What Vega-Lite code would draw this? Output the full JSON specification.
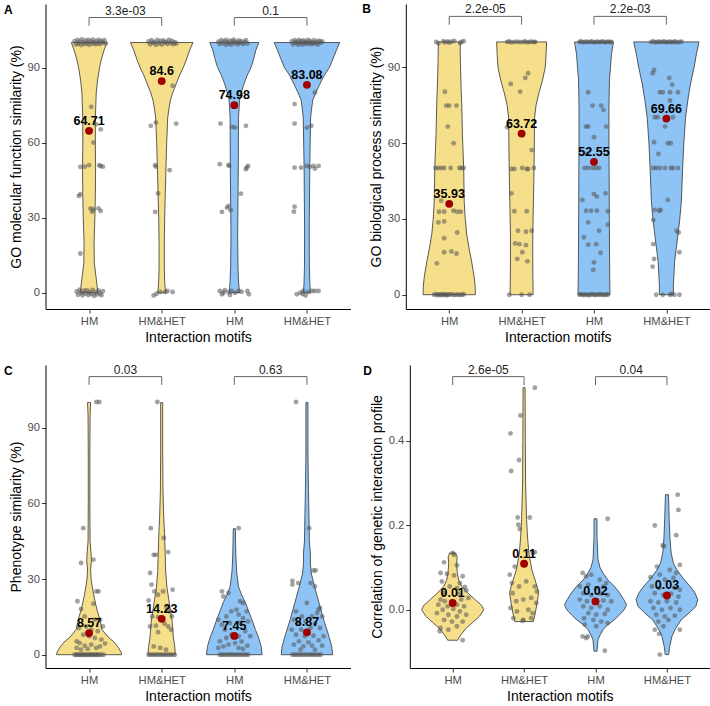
{
"$schema": "https://vega.github.io/schema/vega-lite/v6.json",
"padding": {"left": 3.5, "top": 3, "right": 0, "bottom": 0},
"spacing": 18,
"vconcat": [
{"hconcat": [
{"width": 305, "height": 305,
 "title": {"text": "A", "anchor": "start", "frame": "bounds", "fontSize": 12, "fontWeight": "bold", "baseline": "top", "offset": 0, "dx": -5, "dy": 13},
 "layer": [
  {"data": {"name": "vA"}, "transform": [{"calculate": "datum.g - datum.w", "as": "lo"}, {"calculate": "datum.g + datum.w", "as": "hi"}],
   "mark": {"type": "area", "orient": "horizontal", "stroke": "#333333", "strokeWidth": 0.8},
   "encoding": {
    "y": {"field": "v", "type": "quantitative", "scale": {"domain": [-6.5, 115.4], "nice": false, "zero": false}, "axis": {"values": [0, 30, 60, 90], "title": "GO molecular function similarity (%)"}},
    "x": {"field": "lo", "type": "quantitative", "scale": {"domain": [0.4, 4.6], "nice": false, "zero": false}, "axis": {"values": [1, 2, 3, 4], "labelExpr": "datum.value == 1 || datum.value == 3 ? 'HM' : 'HM&HET'", "title": "Interaction motifs"}},
    "x2": {"field": "hi"},
    "fill": {"field": "g", "type": "nominal", "scale": {"domain": [1, 2, 3, 4], "range": ["#F6DF8A", "#F6DF8A", "#8DC3F5", "#8DC3F5"]}, "legend": null}}},
  {"data": {"name": "pA"}, "transform": [{"calculate": "datum.g + datum.o", "as": "x"}],
   "mark": {"type": "circle", "size": 24, "color": "#555555", "opacity": 0.55},
   "encoding": {"x": {"field": "x", "type": "quantitative"}, "y": {"field": "v", "type": "quantitative"}}},
  {"data": {"name": "means"}, "transform": [{"filter": "datum.p == 'A'"}],
   "mark": {"type": "circle", "size": 62, "color": "#A00000", "opacity": 1},
   "encoding": {"x": {"field": "g", "type": "quantitative"}, "y": {"field": "v", "type": "quantitative"}}},
  {"data": {"name": "means"}, "transform": [{"filter": "datum.p == 'A'"}],
   "mark": {"type": "text", "fontSize": 12.5, "fontWeight": "bold", "color": "black", "baseline": "alphabetic", "dy": -6},
   "encoding": {"x": {"field": "g", "type": "quantitative"}, "y": {"field": "v", "type": "quantitative"}, "text": {"field": "lab"}}},
  {"data": {"name": "br"}, "transform": [{"filter": "datum.p == 'A'"}],
   "mark": {"type": "rule", "color": "#666666", "strokeWidth": 1},
   "encoding": {"x": {"field": "g1", "type": "quantitative"}, "x2": {"field": "g2"}, "y": {"field": "y", "type": "quantitative"}}},
  {"data": {"name": "br"}, "transform": [{"filter": "datum.p == 'A'"}],
   "mark": {"type": "rule", "color": "#666666", "strokeWidth": 1},
   "encoding": {"x": {"field": "g1", "type": "quantitative"}, "y": {"field": "y", "type": "quantitative"}, "y2": {"field": "yt"}}},
  {"data": {"name": "br"}, "transform": [{"filter": "datum.p == 'A'"}],
   "mark": {"type": "rule", "color": "#666666", "strokeWidth": 1},
   "encoding": {"x": {"field": "g2", "type": "quantitative"}, "y": {"field": "y", "type": "quantitative"}, "y2": {"field": "yt"}}},
  {"data": {"name": "br"}, "transform": [{"filter": "datum.p == 'A'"}, {"calculate": "(datum.g1 + datum.g2) / 2", "as": "m"}],
   "mark": {"type": "text", "fontSize": 12, "color": "#222222", "baseline": "alphabetic", "dy": -3},
   "encoding": {"x": {"field": "m", "type": "quantitative"}, "y": {"field": "y", "type": "quantitative"}, "text": {"field": "lab"}}}
 ]},
{"width": 304, "height": 305,
 "title": {"text": "B", "anchor": "start", "frame": "bounds", "fontSize": 12, "fontWeight": "bold", "baseline": "top", "offset": 0, "dx": -7, "dy": 13},
 "layer": [
  {"data": {"name": "vB"}, "transform": [{"calculate": "datum.g - datum.w", "as": "lo"}, {"calculate": "datum.g + datum.w", "as": "hi"}],
   "mark": {"type": "area", "orient": "horizontal", "stroke": "#333333", "strokeWidth": 0.8},
   "encoding": {
    "y": {"field": "v", "type": "quantitative", "scale": {"domain": [-5.66, 115.0], "nice": false, "zero": false}, "axis": {"values": [0, 30, 60, 90], "title": "GO biological process similarity (%)"}},
    "x": {"field": "lo", "type": "quantitative", "scale": {"domain": [0.4, 4.6], "nice": false, "zero": false}, "axis": {"values": [1, 2, 3, 4], "labelExpr": "datum.value == 1 || datum.value == 3 ? 'HM' : 'HM&HET'", "title": "Interaction motifs"}},
    "x2": {"field": "hi"},
    "fill": {"field": "g", "type": "nominal", "scale": {"domain": [1, 2, 3, 4], "range": ["#F6DF8A", "#F6DF8A", "#8DC3F5", "#8DC3F5"]}, "legend": null}}},
  {"data": {"name": "pB"}, "transform": [{"calculate": "datum.g + datum.o", "as": "x"}],
   "mark": {"type": "circle", "size": 24, "color": "#555555", "opacity": 0.55},
   "encoding": {"x": {"field": "x", "type": "quantitative"}, "y": {"field": "v", "type": "quantitative"}}},
  {"data": {"name": "means"}, "transform": [{"filter": "datum.p == 'B'"}],
   "mark": {"type": "circle", "size": 62, "color": "#A00000", "opacity": 1},
   "encoding": {"x": {"field": "g", "type": "quantitative"}, "y": {"field": "v", "type": "quantitative"}}},
  {"data": {"name": "means"}, "transform": [{"filter": "datum.p == 'B'"}],
   "mark": {"type": "text", "fontSize": 12.5, "fontWeight": "bold", "color": "black", "baseline": "alphabetic", "dy": -6},
   "encoding": {"x": {"field": "g", "type": "quantitative"}, "y": {"field": "v", "type": "quantitative"}, "text": {"field": "lab"}}},
  {"data": {"name": "br"}, "transform": [{"filter": "datum.p == 'B'"}],
   "mark": {"type": "rule", "color": "#666666", "strokeWidth": 1},
   "encoding": {"x": {"field": "g1", "type": "quantitative"}, "x2": {"field": "g2"}, "y": {"field": "y", "type": "quantitative"}}},
  {"data": {"name": "br"}, "transform": [{"filter": "datum.p == 'B'"}],
   "mark": {"type": "rule", "color": "#666666", "strokeWidth": 1},
   "encoding": {"x": {"field": "g1", "type": "quantitative"}, "y": {"field": "y", "type": "quantitative"}, "y2": {"field": "yt"}}},
  {"data": {"name": "br"}, "transform": [{"filter": "datum.p == 'B'"}],
   "mark": {"type": "rule", "color": "#666666", "strokeWidth": 1},
   "encoding": {"x": {"field": "g2", "type": "quantitative"}, "y": {"field": "y", "type": "quantitative"}, "y2": {"field": "yt"}}},
  {"data": {"name": "br"}, "transform": [{"filter": "datum.p == 'B'"}, {"calculate": "(datum.g1 + datum.g2) / 2", "as": "m"}],
   "mark": {"type": "text", "fontSize": 12, "color": "#222222", "baseline": "alphabetic", "dy": -3},
   "encoding": {"x": {"field": "m", "type": "quantitative"}, "y": {"field": "y", "type": "quantitative"}, "text": {"field": "lab"}}}
 ]}
], "spacing": 11.3},
{"hconcat": [
{"width": 305, "height": 303,
 "title": {"text": "C", "anchor": "start", "frame": "bounds", "fontSize": 12, "fontWeight": "bold", "baseline": "top", "offset": 0, "dx": -5, "dy": 14},
 "layer": [
  {"data": {"name": "vC"}, "transform": [{"calculate": "datum.g - datum.w", "as": "lo"}, {"calculate": "datum.g + datum.w", "as": "hi"}],
   "mark": {"type": "area", "orient": "horizontal", "stroke": "#333333", "strokeWidth": 0.8},
   "encoding": {
    "y": {"field": "v", "type": "quantitative", "scale": {"domain": [-5.27, 114.9], "nice": false, "zero": false}, "axis": {"values": [0, 30, 60, 90], "title": "Phenotype similarity (%)"}},
    "x": {"field": "lo", "type": "quantitative", "scale": {"domain": [0.4, 4.6], "nice": false, "zero": false}, "axis": {"values": [1, 2, 3, 4], "labelExpr": "datum.value == 1 || datum.value == 3 ? 'HM' : 'HM&HET'", "title": "Interaction motifs"}},
    "x2": {"field": "hi"},
    "fill": {"field": "g", "type": "nominal", "scale": {"domain": [1, 2, 3, 4], "range": ["#F6DF8A", "#F6DF8A", "#8DC3F5", "#8DC3F5"]}, "legend": null}}},
  {"data": {"name": "pC"}, "transform": [{"calculate": "datum.g + datum.o", "as": "x"}],
   "mark": {"type": "circle", "size": 24, "color": "#555555", "opacity": 0.55},
   "encoding": {"x": {"field": "x", "type": "quantitative"}, "y": {"field": "v", "type": "quantitative"}}},
  {"data": {"name": "means"}, "transform": [{"filter": "datum.p == 'C'"}],
   "mark": {"type": "circle", "size": 62, "color": "#A00000", "opacity": 1},
   "encoding": {"x": {"field": "g", "type": "quantitative"}, "y": {"field": "v", "type": "quantitative"}}},
  {"data": {"name": "means"}, "transform": [{"filter": "datum.p == 'C'"}],
   "mark": {"type": "text", "fontSize": 12.5, "fontWeight": "bold", "color": "black", "baseline": "alphabetic", "dy": -6},
   "encoding": {"x": {"field": "g", "type": "quantitative"}, "y": {"field": "v", "type": "quantitative"}, "text": {"field": "lab"}}},
  {"data": {"name": "br"}, "transform": [{"filter": "datum.p == 'C'"}],
   "mark": {"type": "rule", "color": "#666666", "strokeWidth": 1},
   "encoding": {"x": {"field": "g1", "type": "quantitative"}, "x2": {"field": "g2"}, "y": {"field": "y", "type": "quantitative"}}},
  {"data": {"name": "br"}, "transform": [{"filter": "datum.p == 'C'"}],
   "mark": {"type": "rule", "color": "#666666", "strokeWidth": 1},
   "encoding": {"x": {"field": "g1", "type": "quantitative"}, "y": {"field": "y", "type": "quantitative"}, "y2": {"field": "yt"}}},
  {"data": {"name": "br"}, "transform": [{"filter": "datum.p == 'C'"}],
   "mark": {"type": "rule", "color": "#666666", "strokeWidth": 1},
   "encoding": {"x": {"field": "g2", "type": "quantitative"}, "y": {"field": "y", "type": "quantitative"}, "y2": {"field": "yt"}}},
  {"data": {"name": "br"}, "transform": [{"filter": "datum.p == 'C'"}, {"calculate": "(datum.g1 + datum.g2) / 2", "as": "m"}],
   "mark": {"type": "text", "fontSize": 12, "color": "#222222", "baseline": "alphabetic", "dy": -3},
   "encoding": {"x": {"field": "m", "type": "quantitative"}, "y": {"field": "y", "type": "quantitative"}, "text": {"field": "lab"}}}
 ]},
{"width": 300, "height": 303,
 "title": {"text": "D", "anchor": "start", "frame": "bounds", "fontSize": 12, "fontWeight": "bold", "baseline": "top", "offset": 0, "dx": -7, "dy": 14},
 "layer": [
  {"data": {"name": "vD"}, "transform": [{"calculate": "datum.g - datum.w", "as": "lo"}, {"calculate": "datum.g + datum.w", "as": "hi"}],
   "mark": {"type": "area", "orient": "horizontal", "stroke": "#333333", "strokeWidth": 0.8},
   "encoding": {
    "y": {"field": "v", "type": "quantitative", "scale": {"domain": [-0.1377, 0.5785], "nice": false, "zero": false}, "axis": {"values": [0, 0.2, 0.4], "format": ".1f", "title": "Correlation of genetic interaction profile"}},
    "x": {"field": "lo", "type": "quantitative", "scale": {"domain": [0.4, 4.6], "nice": false, "zero": false}, "axis": {"values": [1, 2, 3, 4], "labelExpr": "datum.value == 1 || datum.value == 3 ? 'HM' : 'HM&HET'", "title": "Interaction motifs"}},
    "x2": {"field": "hi"},
    "fill": {"field": "g", "type": "nominal", "scale": {"domain": [1, 2, 3, 4], "range": ["#F6DF8A", "#F6DF8A", "#8DC3F5", "#8DC3F5"]}, "legend": null}}},
  {"data": {"name": "pD"}, "transform": [{"calculate": "datum.g + datum.o", "as": "x"}],
   "mark": {"type": "circle", "size": 24, "color": "#555555", "opacity": 0.55},
   "encoding": {"x": {"field": "x", "type": "quantitative"}, "y": {"field": "v", "type": "quantitative"}}},
  {"data": {"name": "means"}, "transform": [{"filter": "datum.p == 'D'"}],
   "mark": {"type": "circle", "size": 62, "color": "#A00000", "opacity": 1},
   "encoding": {"x": {"field": "g", "type": "quantitative"}, "y": {"field": "v", "type": "quantitative"}}},
  {"data": {"name": "means"}, "transform": [{"filter": "datum.p == 'D'"}],
   "mark": {"type": "text", "fontSize": 12.5, "fontWeight": "bold", "color": "black", "baseline": "alphabetic", "dy": -6},
   "encoding": {"x": {"field": "g", "type": "quantitative"}, "y": {"field": "v", "type": "quantitative"}, "text": {"field": "lab"}}},
  {"data": {"name": "br"}, "transform": [{"filter": "datum.p == 'D'"}],
   "mark": {"type": "rule", "color": "#666666", "strokeWidth": 1},
   "encoding": {"x": {"field": "g1", "type": "quantitative"}, "x2": {"field": "g2"}, "y": {"field": "y", "type": "quantitative"}}},
  {"data": {"name": "br"}, "transform": [{"filter": "datum.p == 'D'"}],
   "mark": {"type": "rule", "color": "#666666", "strokeWidth": 1},
   "encoding": {"x": {"field": "g1", "type": "quantitative"}, "y": {"field": "y", "type": "quantitative"}, "y2": {"field": "yt"}}},
  {"data": {"name": "br"}, "transform": [{"filter": "datum.p == 'D'"}],
   "mark": {"type": "rule", "color": "#666666", "strokeWidth": 1},
   "encoding": {"x": {"field": "g2", "type": "quantitative"}, "y": {"field": "y", "type": "quantitative"}, "y2": {"field": "yt"}}},
  {"data": {"name": "br"}, "transform": [{"filter": "datum.p == 'D'"}, {"calculate": "(datum.g1 + datum.g2) / 2", "as": "m"}],
   "mark": {"type": "text", "fontSize": 12, "color": "#222222", "baseline": "alphabetic", "dy": -3},
   "encoding": {"x": {"field": "m", "type": "quantitative"}, "y": {"field": "y", "type": "quantitative"}, "text": {"field": "lab"}}}
 ]}
], "spacing": 12.3}
],
"datasets": {
"means": [
 {"p": "A", "g": 1, "v": 64.71, "lab": "64.71"}, {"p": "A", "g": 2, "v": 84.6, "lab": "84.6"}, {"p": "A", "g": 3, "v": 74.98, "lab": "74.98"}, {"p": "A", "g": 4, "v": 83.08, "lab": "83.08"},
 {"p": "B", "g": 1, "v": 35.93, "lab": "35.93"}, {"p": "B", "g": 2, "v": 63.72, "lab": "63.72"}, {"p": "B", "g": 3, "v": 52.55, "lab": "52.55"}, {"p": "B", "g": 4, "v": 69.66, "lab": "69.66"},
 {"p": "C", "g": 1, "v": 8.57, "lab": "8.57"}, {"p": "C", "g": 2, "v": 14.23, "lab": "14.23"}, {"p": "C", "g": 3, "v": 7.45, "lab": "7.45"}, {"p": "C", "g": 4, "v": 8.87, "lab": "8.87"},
 {"p": "D", "g": 1, "v": 0.0158, "lab": "0.01"}, {"p": "D", "g": 2, "v": 0.1087, "lab": "0.11"}, {"p": "D", "g": 3, "v": 0.0197, "lab": "0.02"}, {"p": "D", "g": 4, "v": 0.0339, "lab": "0.03"}
],
"br": [
 {"p": "A", "g1": 1, "g2": 2, "y": 110, "yt": 106.7, "lab": "3.3e-03"}, {"p": "A", "g1": 3, "g2": 4, "y": 110, "yt": 106.7, "lab": "0.1"},
 {"p": "B", "g1": 1, "g2": 2, "y": 110.1, "yt": 106.8, "lab": "2.2e-05"}, {"p": "B", "g1": 3, "g2": 4, "y": 110.1, "yt": 106.8, "lab": "2.2e-03"},
 {"p": "C", "g1": 1, "g2": 2, "y": 110.3, "yt": 107, "lab": "0.03"}, {"p": "C", "g1": 3, "g2": 4, "y": 110.3, "yt": 107, "lab": "0.63"},
 {"p": "D", "g1": 1, "g2": 2, "y": 0.551, "yt": 0.531, "lab": "2.6e-05"}, {"p": "D", "g1": 3, "g2": 4, "y": 0.551, "yt": 0.531, "lab": "0.04"}
],
"vA": [
 {"g":1,"v":100,"w":0.244},{"g":1,"v":97,"w":0.207},{"g":1,"v":93,"w":0.166},{"g":1,"v":90,"w":0.145},{"g":1,"v":85,"w":0.117},{"g":1,"v":80,"w":0.099},{"g":1,"v":70,"w":0.087},{"g":1,"v":60,"w":0.086},{"g":1,"v":50,"w":0.09},{"g":1,"v":40,"w":0.087},{"g":1,"v":30,"w":0.08},{"g":1,"v":20,"w":0.069},{"g":1,"v":12,"w":0.072},{"g":1,"v":6,"w":0.097},{"g":1,"v":2,"w":0.114},{"g":1,"v":0,"w":0.12},
 {"g":2,"v":100,"w":0.43},{"g":2,"v":97,"w":0.386},{"g":2,"v":93,"w":0.338},{"g":2,"v":90,"w":0.297},{"g":2,"v":87,"w":0.248},{"g":2,"v":83,"w":0.193},{"g":2,"v":80,"w":0.152},{"g":2,"v":77,"w":0.12},{"g":2,"v":73,"w":0.097},{"g":2,"v":70,"w":0.083},{"g":2,"v":60,"w":0.069},{"g":2,"v":50,"w":0.059},{"g":2,"v":40,"w":0.05},{"g":2,"v":30,"w":0.041},{"g":2,"v":20,"w":0.036},{"g":2,"v":10,"w":0.036},{"g":2,"v":5,"w":0.041},{"g":2,"v":2,"w":0.048},{"g":2,"v":0,"w":0.055},
 {"g":3,"v":100,"w":0.338},{"g":3,"v":97,"w":0.297},{"g":3,"v":93,"w":0.262},{"g":3,"v":90,"w":0.23},{"g":3,"v":87,"w":0.179},{"g":3,"v":83,"w":0.127},{"g":3,"v":80,"w":0.097},{"g":3,"v":77,"w":0.072},{"g":3,"v":70,"w":0.058},{"g":3,"v":50,"w":0.055},{"g":3,"v":35,"w":0.05},{"g":3,"v":23,"w":0.046},{"g":3,"v":10,"w":0.051},{"g":3,"v":4,"w":0.059},{"g":3,"v":2,"w":0.066},{"g":3,"v":0,"w":0.069},
 {"g":4,"v":100,"w":0.451},{"g":4,"v":97,"w":0.407},{"g":4,"v":93,"w":0.352},{"g":4,"v":90,"w":0.31},{"g":4,"v":87,"w":0.241},{"g":4,"v":83,"w":0.172},{"g":4,"v":80,"w":0.124},{"g":4,"v":77,"w":0.08},{"g":4,"v":73,"w":0.062},{"g":4,"v":70,"w":0.051},{"g":4,"v":50,"w":0.039},{"g":4,"v":25,"w":0.032},{"g":4,"v":10,"w":0.034},{"g":4,"v":3,"w":0.041},{"g":4,"v":0,"w":0.051}
],
"vB": [
 {"g":1,"v":100,"w":0.152},{"g":1,"v":96,"w":0.152},{"g":1,"v":90,"w":0.156},{"g":1,"v":83,"w":0.163},{"g":1,"v":76,"w":0.172},{"g":1,"v":63,"w":0.183},{"g":1,"v":50,"w":0.2},{"g":1,"v":37,"w":0.207},{"g":1,"v":30,"w":0.221},{"g":1,"v":24,"w":0.241},{"g":1,"v":18,"w":0.276},{"g":1,"v":13,"w":0.31},{"g":1,"v":7,"w":0.345},{"g":1,"v":3,"w":0.359},{"g":1,"v":0,"w":0.361},
 {"g":2,"v":100,"w":0.345},{"g":2,"v":95,"w":0.338},{"g":2,"v":90,"w":0.327},{"g":2,"v":85,"w":0.29},{"g":2,"v":80,"w":0.241},{"g":2,"v":75,"w":0.2},{"g":2,"v":70,"w":0.179},{"g":2,"v":57,"w":0.175},{"g":2,"v":44,"w":0.168},{"g":2,"v":24,"w":0.154},{"g":2,"v":11,"w":0.154},{"g":2,"v":0,"w":0.159},
 {"g":3,"v":100,"w":0.269},{"g":3,"v":95,"w":0.241},{"g":3,"v":90,"w":0.228},{"g":3,"v":85,"w":0.214},{"g":3,"v":75,"w":0.207},{"g":3,"v":60,"w":0.207},{"g":3,"v":45,"w":0.21},{"g":3,"v":30,"w":0.212},{"g":3,"v":15,"w":0.215},{"g":3,"v":5,"w":0.218},{"g":3,"v":0,"w":0.221},
 {"g":4,"v":100,"w":0.451},{"g":4,"v":95,"w":0.414},{"g":4,"v":90,"w":0.383},{"g":4,"v":83,"w":0.331},{"g":4,"v":77,"w":0.297},{"g":4,"v":70,"w":0.265},{"g":4,"v":60,"w":0.241},{"g":4,"v":50,"w":0.225},{"g":4,"v":37,"w":0.207},{"g":4,"v":30,"w":0.186},{"g":4,"v":24,"w":0.161},{"g":4,"v":18,"w":0.135},{"g":4,"v":13,"w":0.114},{"g":4,"v":4,"w":0.097},{"g":4,"v":0,"w":0.097}
],
"vC": [
 {"g":1,"v":100,"w":0.021},{"g":1,"v":95,"w":0.014},{"g":1,"v":80,"w":0.011},{"g":1,"v":60,"w":0.011},{"g":1,"v":45,"w":0.014},{"g":1,"v":40,"w":0.028},{"g":1,"v":37,"w":0.032},{"g":1,"v":34,"w":0.021},{"g":1,"v":30,"w":0.028},{"g":1,"v":27,"w":0.044},{"g":1,"v":24,"w":0.062},{"g":1,"v":20.5,"w":0.087},{"g":1,"v":17,"w":0.117},{"g":1,"v":14,"w":0.149},{"g":1,"v":10,"w":0.177},{"g":1,"v":7,"w":0.262},{"g":1,"v":5,"w":0.345},{"g":1,"v":3,"w":0.4},{"g":1,"v":1,"w":0.441},{"g":1,"v":0,"w":0.448},
 {"g":2,"v":100,"w":0.014},{"g":2,"v":80,"w":0.014},{"g":2,"v":65,"w":0.018},{"g":2,"v":55,"w":0.028},{"g":2,"v":48,"w":0.039},{"g":2,"v":40,"w":0.048},{"g":2,"v":33,"w":0.055},{"g":2,"v":26.5,"w":0.073},{"g":2,"v":20,"w":0.108},{"g":2,"v":13.7,"w":0.142},{"g":2,"v":7,"w":0.161},{"g":2,"v":3.3,"w":0.179},{"g":2,"v":0,"w":0.189},
 {"g":3,"v":50,"w":0.014},{"g":3,"v":45,"w":0.017},{"g":3,"v":40,"w":0.021},{"g":3,"v":35,"w":0.028},{"g":3,"v":32.4,"w":0.034},{"g":3,"v":27,"w":0.058},{"g":3,"v":24,"w":0.097},{"g":3,"v":20.6,"w":0.154},{"g":3,"v":17,"w":0.2},{"g":3,"v":14,"w":0.241},{"g":3,"v":10,"w":0.29},{"g":3,"v":7.3,"w":0.328},{"g":3,"v":3.3,"w":0.37},{"g":3,"v":0,"w":0.383},
 {"g":4,"v":100,"w":0.014},{"g":4,"v":80,"w":0.014},{"g":4,"v":65,"w":0.021},{"g":4,"v":55,"w":0.028},{"g":4,"v":45,"w":0.034},{"g":4,"v":40,"w":0.048},{"g":4,"v":36,"w":0.048},{"g":4,"v":32,"w":0.062},{"g":4,"v":27,"w":0.106},{"g":4,"v":20.6,"w":0.166},{"g":4,"v":14,"w":0.23},{"g":4,"v":7.3,"w":0.303},{"g":4,"v":3.3,"w":0.341},{"g":4,"v":0,"w":0.354}
],
"vD": [
 {"g":1,"v":0.134,"w":0.042},{"g":1,"v":0.125,"w":0.063},{"g":1,"v":0.11,"w":0.056},{"g":1,"v":0.09,"w":0.063},{"g":1,"v":0.07,"w":0.084},{"g":1,"v":0.055,"w":0.126},{"g":1,"v":0.04,"w":0.21},{"g":1,"v":0.025,"w":0.308},{"g":1,"v":0.01,"w":0.406},{"g":1,"v":0,"w":0.434},{"g":1,"v":-0.015,"w":0.378},{"g":1,"v":-0.03,"w":0.28},{"g":1,"v":-0.045,"w":0.182},{"g":1,"v":-0.06,"w":0.112},{"g":1,"v":-0.072,"w":0.07},
 {"g":2,"v":0.525,"w":0.014},{"g":2,"v":0.4,"w":0.017},{"g":2,"v":0.3,"w":0.021},{"g":2,"v":0.213,"w":0.035},{"g":2,"v":0.17,"w":0.049},{"g":2,"v":0.134,"w":0.067},{"g":2,"v":0.094,"w":0.109},{"g":2,"v":0.055,"w":0.182},{"g":2,"v":0.039,"w":0.203},{"g":2,"v":0.016,"w":0.182},{"g":2,"v":-0.01,"w":0.154},{"g":2,"v":-0.028,"w":0.13},
 {"g":3,"v":0.215,"w":0.021},{"g":3,"v":0.173,"w":0.021},{"g":3,"v":0.118,"w":0.035},{"g":3,"v":0.1,"w":0.063},{"g":3,"v":0.087,"w":0.105},{"g":3,"v":0.07,"w":0.175},{"g":3,"v":0.055,"w":0.266},{"g":3,"v":0.04,"w":0.336},{"g":3,"v":0.024,"w":0.396},{"g":3,"v":0.012,"w":0.434},{"g":3,"v":0,"w":0.402},{"g":3,"v":-0.012,"w":0.336},{"g":3,"v":-0.024,"w":0.262},{"g":3,"v":-0.035,"w":0.175},{"g":3,"v":-0.047,"w":0.105},{"g":3,"v":-0.06,"w":0.063},{"g":3,"v":-0.071,"w":0.035},{"g":3,"v":-0.098,"w":0.021},
 {"g":4,"v":0.272,"w":0.021},{"g":4,"v":0.213,"w":0.032},{"g":4,"v":0.17,"w":0.042},{"g":4,"v":0.134,"w":0.059},{"g":4,"v":0.11,"w":0.091},{"g":4,"v":0.094,"w":0.14},{"g":4,"v":0.075,"w":0.224},{"g":4,"v":0.055,"w":0.326},{"g":4,"v":0.04,"w":0.392},{"g":4,"v":0.024,"w":0.431},{"g":4,"v":0.008,"w":0.406},{"g":4,"v":-0.008,"w":0.308},{"g":4,"v":-0.024,"w":0.199},{"g":4,"v":-0.045,"w":0.119},{"g":4,"v":-0.063,"w":0.07},{"g":4,"v":-0.087,"w":0.038},{"g":4,"v":-0.106,"w":0.024}
],
"pA": [
 {"g":1,"v":100.5,"o":-0.2},{"g":1,"v":99.2,"o":-0.18},{"g":1,"v":101,"o":-0.16},{"g":1,"v":99.6,"o":-0.15},{"g":1,"v":100.3,"o":-0.13},{"g":1,"v":99,"o":-0.11},{"g":1,"v":101.2,"o":-0.1},{"g":1,"v":100,"o":-0.08},{"g":1,"v":99.4,"o":-0.06},{"g":1,"v":100.8,"o":-0.05},{"g":1,"v":99.8,"o":-0.03},{"g":1,"v":101,"o":-0.01},{"g":1,"v":99.1,"o":0},{"g":1,"v":100.4,"o":0.02},{"g":1,"v":99.5,"o":0.04},{"g":1,"v":101.1,"o":0.05},{"g":1,"v":100,"o":0.07},{"g":1,"v":99.3,"o":0.09},{"g":1,"v":100.7,"o":0.1},{"g":1,"v":99.8,"o":0.12},{"g":1,"v":101,"o":0.14},{"g":1,"v":99.4,"o":0.15},{"g":1,"v":100.4,"o":0.17},{"g":1,"v":99.9,"o":0.19},{"g":1,"v":100.9,"o":0.21},{"g":1,"v":99.6,"o":0.23},
 {"g":1,"v":74.3,"o":0.03},{"g":1,"v":65.3,"o":0.16},{"g":1,"v":67.3,"o":0.1},{"g":1,"v":60,"o":0.06},{"g":1,"v":50.3,"o":-0.12},{"g":1,"v":50.4,"o":-0.06},{"g":1,"v":51,"o":0},{"g":1,"v":51,"o":0.14},{"g":1,"v":50.4,"o":0.19},{"g":1,"v":50.6,"o":0.16},{"g":1,"v":39.4,"o":-0.12},{"g":1,"v":38.7,"o":-0.14},{"g":1,"v":33.7,"o":0.02},{"g":1,"v":33.3,"o":0.06},{"g":1,"v":32.4,"o":0.04},{"g":1,"v":33.7,"o":0.13},{"g":1,"v":32.7,"o":0.16},{"g":1,"v":15.7,"o":-0.12},
 {"g":1,"v":0.5,"o":-0.17},{"g":1,"v":-0.8,"o":-0.15},{"g":1,"v":1.2,"o":-0.13},{"g":1,"v":0,"o":-0.11},{"g":1,"v":-1,"o":-0.09},{"g":1,"v":0.8,"o":-0.07},{"g":1,"v":-0.3,"o":-0.05},{"g":1,"v":1,"o":-0.03},{"g":1,"v":-0.9,"o":-0.01},{"g":1,"v":0.3,"o":0.01},{"g":1,"v":-0.5,"o":0.03},{"g":1,"v":1.1,"o":0.05},{"g":1,"v":-1.2,"o":0.07},{"g":1,"v":0.2,"o":0.09},{"g":1,"v":-0.7,"o":0.11},{"g":1,"v":0.9,"o":0.13},{"g":1,"v":-0.2,"o":0.15},{"g":1,"v":-1,"o":0.17},{"g":1,"v":0.6,"o":0.19},
 {"g":2,"v":100.4,"o":-0.18},{"g":2,"v":99.3,"o":-0.16},{"g":2,"v":100.9,"o":-0.14},{"g":2,"v":99.8,"o":-0.12},{"g":2,"v":100.2,"o":-0.1},{"g":2,"v":99.1,"o":-0.08},{"g":2,"v":101,"o":-0.06},{"g":2,"v":99.7,"o":-0.04},{"g":2,"v":100.5,"o":-0.02},{"g":2,"v":99.2,"o":0},{"g":2,"v":100.8,"o":0.02},{"g":2,"v":99.9,"o":0.04},{"g":2,"v":100.3,"o":0.06},{"g":2,"v":99.4,"o":0.08},{"g":2,"v":101,"o":0.1},{"g":2,"v":99.8,"o":0.12},{"g":2,"v":100.6,"o":0.14},{"g":2,"v":99.3,"o":0.16},{"g":2,"v":100.1,"o":0.18},{"g":2,"v":99.6,"o":0.2},
 {"g":2,"v":82.7,"o":0.15},{"g":2,"v":66.7,"o":-0.15},{"g":2,"v":68,"o":-0.08},{"g":2,"v":67.6,"o":0.2},{"g":2,"v":51,"o":-0.09},{"g":2,"v":50.4,"o":-0.08},{"g":2,"v":49,"o":0.11},{"g":2,"v":39.7,"o":-0.05},{"g":2,"v":32.3,"o":-0.09},
 {"g":2,"v":-1.1,"o":-0.11},{"g":2,"v":-0.4,"o":-0.07},{"g":2,"v":0.3,"o":-0.02},{"g":2,"v":0.3,"o":0.05},{"g":2,"v":0.7,"o":0.08},{"g":2,"v":0.3,"o":0.15},
 {"g":3,"v":100.3,"o":-0.22},{"g":3,"v":99.4,"o":-0.2},{"g":3,"v":100.9,"o":-0.18},{"g":3,"v":99.8,"o":-0.16},{"g":3,"v":100.5,"o":-0.14},{"g":3,"v":99.1,"o":-0.12},{"g":3,"v":101,"o":-0.11},{"g":3,"v":100,"o":-0.09},{"g":3,"v":99.5,"o":-0.07},{"g":3,"v":100.7,"o":-0.06},{"g":3,"v":99.2,"o":-0.04},{"g":3,"v":100.4,"o":-0.02},{"g":3,"v":101.1,"o":-0.01},{"g":3,"v":99.7,"o":0.01},{"g":3,"v":100.2,"o":0.03},{"g":3,"v":99.3,"o":0.05},{"g":3,"v":100.8,"o":0.06},{"g":3,"v":99.9,"o":0.08},{"g":3,"v":100.5,"o":0.1},{"g":3,"v":99.4,"o":0.12},{"g":3,"v":100.1,"o":0.14},{"g":3,"v":100.9,"o":0.16},{"g":3,"v":99.6,"o":0.18},
 {"g":3,"v":67.6,"o":-0.19},{"g":3,"v":66.3,"o":-0.03},{"g":3,"v":66,"o":0.01},{"g":3,"v":66.7,"o":0.16},{"g":3,"v":51.4,"o":-0.2},{"g":3,"v":51.1,"o":-0.08},{"g":3,"v":50.7,"o":-0.07},{"g":3,"v":50,"o":0.17},{"g":3,"v":50.7,"o":0.19},{"g":3,"v":49.4,"o":0.16},{"g":3,"v":39.6,"o":0.09},{"g":3,"v":34.7,"o":-0.08},{"g":3,"v":34,"o":-0.1},{"g":3,"v":32.3,"o":-0.17},{"g":3,"v":33,"o":-0.05},
 {"g":3,"v":0.7,"o":-0.2},{"g":3,"v":-0.6,"o":-0.17},{"g":3,"v":1,"o":-0.13},{"g":3,"v":0.3,"o":-0.08},{"g":3,"v":0.7,"o":-0.04},{"g":3,"v":0,"o":0.01},{"g":3,"v":0.7,"o":0.06},{"g":3,"v":0.4,"o":0.1},{"g":3,"v":0.7,"o":0.18},{"g":3,"v":-0.6,"o":0.2},{"g":3,"v":0,"o":-0.15},{"g":3,"v":-0.9,"o":-0.06},
 {"g":4,"v":100.4,"o":-0.21},{"g":4,"v":99.3,"o":-0.19},{"g":4,"v":100.9,"o":-0.17},{"g":4,"v":99.9,"o":-0.16},{"g":4,"v":100.3,"o":-0.14},{"g":4,"v":99.1,"o":-0.12},{"g":4,"v":101,"o":-0.11},{"g":4,"v":99.7,"o":-0.09},{"g":4,"v":100.5,"o":-0.08},{"g":4,"v":99.2,"o":-0.06},{"g":4,"v":100.8,"o":-0.05},{"g":4,"v":99.9,"o":-0.03},{"g":4,"v":100.2,"o":-0.02},{"g":4,"v":99.4,"o":0},{"g":4,"v":101,"o":0.01},{"g":4,"v":99.8,"o":0.03},{"g":4,"v":100.6,"o":0.04},{"g":4,"v":99.3,"o":0.06},{"g":4,"v":100.1,"o":0.07},{"g":4,"v":99.6,"o":0.09},{"g":4,"v":100.9,"o":0.1},{"g":4,"v":99.8,"o":0.12},{"g":4,"v":100.3,"o":0.14},{"g":4,"v":99.2,"o":0.15},{"g":4,"v":100.7,"o":0.17},{"g":4,"v":99.9,"o":0.19},{"g":4,"v":100.4,"o":0.21},
 {"g":4,"v":80,"o":0.11},{"g":4,"v":75.4,"o":-0.17},{"g":4,"v":67.6,"o":-0.17},{"g":4,"v":66,"o":0},{"g":4,"v":66.7,"o":0.06},{"g":4,"v":50,"o":-0.17},{"g":4,"v":50,"o":-0.08},{"g":4,"v":50.7,"o":0},{"g":4,"v":50.3,"o":0.04},{"g":4,"v":50.7,"o":0.09},{"g":4,"v":50.7,"o":0.16},{"g":4,"v":49.6,"o":0.11},{"g":4,"v":34.4,"o":-0.17},{"g":4,"v":32.4,"o":-0.18},
 {"g":4,"v":-0.6,"o":-0.14},{"g":4,"v":0,"o":-0.09},{"g":4,"v":0.7,"o":-0.05},{"g":4,"v":-1.1,"o":-0.02},{"g":4,"v":0.3,"o":0.02},{"g":4,"v":0.7,"o":0.07},{"g":4,"v":0.7,"o":0.11},{"g":4,"v":0.7,"o":0.16},{"g":4,"v":-0.4,"o":-0.06}
],
"pB": [
 {"g":1,"v":100,"o":-0.18},{"g":1,"v":99.5,"o":-0.15},{"g":1,"v":100.3,"o":-0.08},{"g":1,"v":99.8,"o":-0.06},{"g":1,"v":100.2,"o":-0.02},{"g":1,"v":99.7,"o":0},{"g":1,"v":100.1,"o":0.03},{"g":1,"v":100.4,"o":0.07},{"g":1,"v":99.6,"o":0.15},{"g":1,"v":100,"o":0.17},{"g":1,"v":100.3,"o":0.2},
 {"g":1,"v":80.3,"o":-0.06},{"g":1,"v":74.8,"o":-0.04},{"g":1,"v":74.8,"o":0},{"g":1,"v":74.8,"o":0.1},{"g":1,"v":66.5,"o":-0.02},{"g":1,"v":59.9,"o":0.06},{"g":1,"v":50.1,"o":-0.19},{"g":1,"v":50.1,"o":-0.15},{"g":1,"v":50.1,"o":-0.11},{"g":1,"v":50.1,"o":-0.07},{"g":1,"v":50.1,"o":0.02},{"g":1,"v":50.1,"o":0.14},{"g":1,"v":50.1,"o":0.17},{"g":1,"v":50.1,"o":0.2},{"g":1,"v":37.2,"o":-0.11},{"g":1,"v":32.8,"o":-0.07},{"g":1,"v":32.8,"o":-0.14},{"g":1,"v":33.2,"o":0.06},{"g":1,"v":32.8,"o":0.11},{"g":1,"v":32.8,"o":0.16},{"g":1,"v":28.6,"o":-0.15},{"g":1,"v":29,"o":-0.07},{"g":1,"v":24.6,"o":0.11},{"g":1,"v":22.3,"o":-0.07},{"g":1,"v":16.8,"o":-0.07},{"g":1,"v":17.1,"o":0.03},{"g":1,"v":16.3,"o":0.1},{"g":1,"v":12.4,"o":-0.17},
 {"g":1,"v":0,"o":-0.21},{"g":1,"v":0.2,"o":-0.18},{"g":1,"v":-0.2,"o":-0.16},{"g":1,"v":0.1,"o":-0.14},{"g":1,"v":0,"o":-0.12},{"g":1,"v":-0.1,"o":-0.1},{"g":1,"v":0.2,"o":-0.08},{"g":1,"v":0,"o":-0.06},{"g":1,"v":-0.2,"o":-0.04},{"g":1,"v":0.1,"o":-0.02},{"g":1,"v":0,"o":0},{"g":1,"v":0.2,"o":0.03},{"g":1,"v":-0.1,"o":0.06},{"g":1,"v":0,"o":0.09},{"g":1,"v":0.1,"o":0.12},{"g":1,"v":-0.1,"o":0.15},{"g":1,"v":0,"o":0.18},{"g":1,"v":0.2,"o":0.2},
 {"g":2,"v":100,"o":-0.2},{"g":2,"v":100.2,"o":-0.17},{"g":2,"v":99.8,"o":-0.14},{"g":2,"v":100,"o":-0.1},{"g":2,"v":100.1,"o":-0.06},{"g":2,"v":99.9,"o":-0.02},{"g":2,"v":100,"o":0.02},{"g":2,"v":100.2,"o":0.05},{"g":2,"v":99.8,"o":0.08},{"g":2,"v":100,"o":0.11},{"g":2,"v":100.1,"o":0.14},{"g":2,"v":99.9,"o":0.17},{"g":2,"v":100,"o":0.19},
 {"g":2,"v":87.6,"o":0.09},{"g":2,"v":85.7,"o":0.05},{"g":2,"v":83.4,"o":-0.15},{"g":2,"v":80.3,"o":-0.02},{"g":2,"v":66.2,"o":-0.2},{"g":2,"v":57.2,"o":0.14},{"g":2,"v":49.7,"o":-0.14},{"g":2,"v":49.7,"o":-0.1},{"g":2,"v":50.1,"o":0.01},{"g":2,"v":49.7,"o":0.07},{"g":2,"v":50.1,"o":0.17},{"g":2,"v":49.7,"o":0.09},{"g":2,"v":40.1,"o":-0.14},{"g":2,"v":33,"o":-0.1},{"g":2,"v":33,"o":0.07},{"g":2,"v":25.3,"o":-0.05},{"g":2,"v":24.9,"o":0.06},{"g":2,"v":25.3,"o":0.14},{"g":2,"v":20.3,"o":-0.09},{"g":2,"v":20,"o":-0.03},{"g":2,"v":19.6,"o":0.06},{"g":2,"v":16.8,"o":0.01},{"g":2,"v":14.1,"o":-0.06},{"g":2,"v":13.2,"o":0.08},
 {"g":2,"v":0,"o":-0.17},{"g":2,"v":0,"o":0},{"g":2,"v":0,"o":0.11},
 {"g":3,"v":100,"o":-0.2},{"g":3,"v":100.2,"o":-0.18},{"g":3,"v":99.8,"o":-0.15},{"g":3,"v":100,"o":-0.13},{"g":3,"v":100.1,"o":-0.1},{"g":3,"v":99.9,"o":-0.08},{"g":3,"v":100,"o":-0.05},{"g":3,"v":100.2,"o":-0.03},{"g":3,"v":99.8,"o":0},{"g":3,"v":100,"o":0.02},{"g":3,"v":100.1,"o":0.05},{"g":3,"v":99.9,"o":0.07},{"g":3,"v":100,"o":0.1},{"g":3,"v":100.2,"o":0.12},{"g":3,"v":99.8,"o":0.15},{"g":3,"v":100,"o":0.17},{"g":3,"v":100.1,"o":0.2},{"g":3,"v":99.9,"o":0.22},{"g":3,"v":100,"o":0.24},
 {"g":3,"v":80.1,"o":-0.08},{"g":3,"v":74.8,"o":-0.02},{"g":3,"v":74.8,"o":0.1},{"g":3,"v":73.1,"o":0.13},{"g":3,"v":66.5,"o":-0.11},{"g":3,"v":66.5,"o":-0.08},{"g":3,"v":66.5,"o":0.17},{"g":3,"v":62.3,"o":0},{"g":3,"v":55.7,"o":-0.1},{"g":3,"v":50.1,"o":-0.13},{"g":3,"v":50.1,"o":-0.08},{"g":3,"v":50.1,"o":-0.02},{"g":3,"v":50.1,"o":0.03},{"g":3,"v":50.1,"o":0.07},{"g":3,"v":39.8,"o":0},{"g":3,"v":38.8,"o":0.04},{"g":3,"v":40.1,"o":0.16},{"g":3,"v":37.5,"o":-0.16},{"g":3,"v":33.2,"o":-0.11},{"g":3,"v":33.2,"o":-0.04},{"g":3,"v":33.2,"o":0.04},{"g":3,"v":33,"o":0.19},{"g":3,"v":28.6,"o":-0.08},{"g":3,"v":27.7,"o":0.19},{"g":3,"v":25.3,"o":0.07},{"g":3,"v":22.7,"o":-0.14},{"g":3,"v":20,"o":0.03},{"g":3,"v":19.8,"o":-0.08},{"g":3,"v":16.6,"o":0.09},{"g":3,"v":12.8,"o":0},{"g":3,"v":9.8,"o":-0.01},
 {"g":3,"v":0,"o":-0.2},{"g":3,"v":0.2,"o":-0.18},{"g":3,"v":-0.1,"o":-0.15},{"g":3,"v":0,"o":-0.13},{"g":3,"v":0.1,"o":-0.1},{"g":3,"v":-0.2,"o":-0.08},{"g":3,"v":0,"o":-0.05},{"g":3,"v":0.2,"o":-0.03},{"g":3,"v":0,"o":0},{"g":3,"v":-0.1,"o":0.02},{"g":3,"v":0.1,"o":0.05},{"g":3,"v":0,"o":0.07},{"g":3,"v":0.2,"o":0.1},{"g":3,"v":-0.1,"o":0.12},{"g":3,"v":0,"o":0.15},{"g":3,"v":0.1,"o":0.17},{"g":3,"v":0,"o":0.19},
 {"g":4,"v":100,"o":-0.21},{"g":4,"v":100.2,"o":-0.18},{"g":4,"v":99.8,"o":-0.15},{"g":4,"v":100,"o":-0.13},{"g":4,"v":100.1,"o":-0.1},{"g":4,"v":99.9,"o":-0.08},{"g":4,"v":100,"o":-0.05},{"g":4,"v":100.2,"o":-0.03},{"g":4,"v":99.8,"o":0},{"g":4,"v":100,"o":0.02},{"g":4,"v":100.1,"o":0.05},{"g":4,"v":99.9,"o":0.07},{"g":4,"v":100,"o":0.1},{"g":4,"v":100.2,"o":0.12},{"g":4,"v":99.8,"o":0.15},{"g":4,"v":100,"o":0.18},{"g":4,"v":100.1,"o":0.21},
 {"g":4,"v":88.9,"o":-0.17},{"g":4,"v":87.6,"o":-0.19},{"g":4,"v":85.7,"o":0.04},{"g":4,"v":83.1,"o":0.08},{"g":4,"v":80.1,"o":-0.09},{"g":4,"v":80.1,"o":-0.05},{"g":4,"v":80.1,"o":0.05},{"g":4,"v":80.1,"o":0.16},{"g":4,"v":76.8,"o":0.05},{"g":4,"v":70.2,"o":-0.16},{"g":4,"v":70.2,"o":-0.12},{"g":4,"v":70.2,"o":0.09},{"g":4,"v":66.5,"o":-0.02},{"g":4,"v":60.3,"o":-0.17},{"g":4,"v":59.9,"o":0.02},{"g":4,"v":59.9,"o":0.06},{"g":4,"v":55.7,"o":-0.11},{"g":4,"v":50.1,"o":-0.18},{"g":4,"v":50.1,"o":-0.14},{"g":4,"v":50.1,"o":-0.09},{"g":4,"v":50.1,"o":-0.02},{"g":4,"v":50.1,"o":0.06},{"g":4,"v":50.1,"o":0.09},{"g":4,"v":50.1,"o":0.16},{"g":4,"v":37.5,"o":0.02},{"g":4,"v":33.5,"o":-0.16},{"g":4,"v":33.2,"o":-0.1},{"g":4,"v":33.5,"o":-0.08},{"g":4,"v":29.5,"o":-0.18},{"g":4,"v":25.3,"o":0.14},{"g":4,"v":24.6,"o":0.17},{"g":4,"v":20,"o":-0.18},{"g":4,"v":16.8,"o":0.18},{"g":4,"v":14.1,"o":-0.17},{"g":4,"v":11.1,"o":-0.19},
 {"g":4,"v":0,"o":-0.14},{"g":4,"v":0,"o":-0.05},{"g":4,"v":0,"o":0.05},{"g":4,"v":0,"o":0.11},{"g":4,"v":0,"o":0.18},{"g":4,"v":0.3,"o":0.07}
],
"pC": [
 {"g":1,"v":100.2,"o":0.1},{"g":1,"v":100.2,"o":0.14},{"g":1,"v":50.2,"o":-0.08},{"g":1,"v":36.4,"o":-0.11},{"g":1,"v":37.7,"o":0.06},{"g":1,"v":25.1,"o":0.1},{"g":1,"v":25.1,"o":0.13},{"g":1,"v":21.2,"o":-0.16},{"g":1,"v":20.2,"o":0.06},{"g":1,"v":18.1,"o":-0.11},{"g":1,"v":15.2,"o":-0.06},{"g":1,"v":13.9,"o":0.08},{"g":1,"v":13.9,"o":0.15},{"g":1,"v":11.2,"o":0.19},{"g":1,"v":10.6,"o":-0.14},{"g":1,"v":11.2,"o":-0.04},{"g":1,"v":5.3,"o":-0.17},{"g":1,"v":9.9,"o":0.03},{"g":1,"v":9.3,"o":0.12},{"g":1,"v":7.9,"o":-0.08},{"g":1,"v":7.3,"o":0},{"g":1,"v":6.6,"o":0.08},{"g":1,"v":6,"o":0.17},{"g":1,"v":4.6,"o":-0.13},{"g":1,"v":3.6,"o":-0.06},{"g":1,"v":4,"o":0.03},{"g":1,"v":3.3,"o":0.15},{"g":1,"v":4.4,"o":0.22},{"g":1,"v":2.7,"o":-0.17},{"g":1,"v":2.7,"o":0.1},{"g":1,"v":2.3,"o":-0.02},{"g":1,"v":2,"o":-0.11},
 {"g":1,"v":0,"o":-0.2},{"g":1,"v":0,"o":-0.18},{"g":1,"v":0,"o":-0.16},{"g":1,"v":0,"o":-0.14},{"g":1,"v":0,"o":-0.12},{"g":1,"v":0,"o":-0.1},{"g":1,"v":0,"o":-0.08},{"g":1,"v":0,"o":-0.06},{"g":1,"v":0,"o":-0.04},{"g":1,"v":0,"o":-0.02},{"g":1,"v":0,"o":0},{"g":1,"v":0,"o":0.02},{"g":1,"v":0,"o":0.04},{"g":1,"v":0,"o":0.06},{"g":1,"v":0,"o":0.08},{"g":1,"v":0,"o":0.1},{"g":1,"v":0,"o":0.12},{"g":1,"v":0,"o":0.14},{"g":1,"v":0,"o":0.17},{"g":1,"v":0,"o":0.2},
 {"g":2,"v":100.2,"o":-0.06},{"g":2,"v":50.2,"o":-0.15},{"g":2,"v":46.3,"o":0.03},{"g":2,"v":39.6,"o":-0.11},{"g":2,"v":39.6,"o":-0.08},{"g":2,"v":40.7,"o":0.09},{"g":2,"v":32.4,"o":-0.16},{"g":2,"v":27.8,"o":-0.14},{"g":2,"v":25.1,"o":-0.1},{"g":2,"v":25.1,"o":0.02},{"g":2,"v":25.8,"o":0.15},{"g":2,"v":21.5,"o":-0.18},{"g":2,"v":23.8,"o":-0.05},{"g":2,"v":18.5,"o":0.07},{"g":2,"v":17.2,"o":0.11},{"g":2,"v":15.2,"o":-0.13},{"g":2,"v":14.9,"o":-0.05},{"g":2,"v":15.2,"o":0.14},{"g":2,"v":11.2,"o":-0.16},{"g":2,"v":11.5,"o":-0.08},{"g":2,"v":12.3,"o":0.04},{"g":2,"v":11.2,"o":0.09},{"g":2,"v":9.9,"o":0.13},{"g":2,"v":8.9,"o":-0.05},{"g":2,"v":3.3,"o":-0.11},{"g":2,"v":2.7,"o":-0.02},{"g":2,"v":2,"o":0.06},
 {"g":2,"v":0,"o":-0.18},{"g":2,"v":0,"o":-0.15},{"g":2,"v":0,"o":-0.12},{"g":2,"v":0,"o":-0.09},{"g":2,"v":0,"o":-0.06},{"g":2,"v":0,"o":-0.03},{"g":2,"v":0,"o":0},{"g":2,"v":0,"o":0.03},{"g":2,"v":0,"o":0.06},{"g":2,"v":0,"o":0.09},{"g":2,"v":0,"o":0.12},{"g":2,"v":0,"o":0.15},{"g":2,"v":0,"o":0.18},
 {"g":3,"v":50.2,"o":0.06},{"g":3,"v":25.1,"o":-0.17},{"g":3,"v":23.1,"o":-0.15},{"g":3,"v":24.5,"o":-0.08},{"g":3,"v":21.2,"o":0.08},{"g":3,"v":20.5,"o":0.12},{"g":3,"v":17.2,"o":-0.04},{"g":3,"v":17.9,"o":0.03},{"g":3,"v":17.2,"o":0.17},{"g":3,"v":15.2,"o":-0.11},{"g":3,"v":15.9,"o":0.06},{"g":3,"v":14.5,"o":0.12},{"g":3,"v":13.9,"o":-0.22},{"g":3,"v":11.9,"o":-0.17},{"g":3,"v":12.6,"o":-0.06},{"g":3,"v":12.6,"o":0.08},{"g":3,"v":13.2,"o":0.19},{"g":3,"v":9.9,"o":-0.13},{"g":3,"v":9.3,"o":0.15},{"g":3,"v":7.9,"o":-0.04},{"g":3,"v":7.3,"o":0.06},{"g":3,"v":6.6,"o":-0.11},{"g":3,"v":7.3,"o":0.22},{"g":3,"v":5.3,"o":-0.2},{"g":3,"v":4.6,"o":0.01},{"g":3,"v":5.3,"o":0.1},{"g":3,"v":4,"o":-0.08},{"g":3,"v":3.6,"o":0.18},{"g":3,"v":3.3,"o":-0.15},{"g":3,"v":2.7,"o":0.06},{"g":3,"v":2.7,"o":-0.22},{"g":3,"v":2.3,"o":0.12},
 {"g":3,"v":0,"o":-0.2},{"g":3,"v":0,"o":-0.17},{"g":3,"v":0,"o":-0.14},{"g":3,"v":0,"o":-0.11},{"g":3,"v":0,"o":-0.08},{"g":3,"v":0,"o":-0.05},{"g":3,"v":0,"o":-0.02},{"g":3,"v":0,"o":0.01},{"g":3,"v":0,"o":0.04},{"g":3,"v":0,"o":0.07},{"g":3,"v":0,"o":0.1},{"g":3,"v":0,"o":0.13},{"g":3,"v":0,"o":0.16},{"g":3,"v":0,"o":0.19},
 {"g":4,"v":100.2,"o":-0.15},{"g":4,"v":50.2,"o":0.03},{"g":4,"v":33.4,"o":0.09},{"g":4,"v":33.4,"o":0.12},{"g":4,"v":29.3,"o":-0.2},{"g":4,"v":27.8,"o":-0.2},{"g":4,"v":28.4,"o":-0.12},{"g":4,"v":28.4,"o":0.05},{"g":4,"v":27.1,"o":0.11},{"g":4,"v":20.5,"o":0},{"g":4,"v":17.2,"o":-0.15},{"g":4,"v":17.9,"o":0.16},{"g":4,"v":18.5,"o":0.18},{"g":4,"v":16.5,"o":0.14},{"g":4,"v":15.2,"o":-0.07},{"g":4,"v":15.2,"o":0.07},{"g":4,"v":15.2,"o":0.21},{"g":4,"v":13.9,"o":-0.18},{"g":4,"v":12.6,"o":-0.11},{"g":4,"v":13.2,"o":-0.02},{"g":4,"v":12.3,"o":0.11},{"g":4,"v":9.9,"o":-0.21},{"g":4,"v":9.9,"o":-0.08},{"g":4,"v":10.6,"o":0.05},{"g":4,"v":10.6,"o":0.18},{"g":4,"v":7.9,"o":-0.15},{"g":4,"v":7.3,"o":-0.03},{"g":4,"v":7.5,"o":0.09},{"g":4,"v":7.3,"o":0.23},{"g":4,"v":5.3,"o":-0.11},{"g":4,"v":4.9,"o":0.02},{"g":4,"v":5.7,"o":0.16},{"g":4,"v":4,"o":-0.18},{"g":4,"v":3.3,"o":-0.05},{"g":4,"v":3.6,"o":0.07},{"g":4,"v":3.6,"o":0.21},{"g":4,"v":2,"o":-0.09},{"g":4,"v":2,"o":0.11},
 {"g":4,"v":0,"o":-0.2},{"g":4,"v":0,"o":-0.17},{"g":4,"v":0,"o":-0.14},{"g":4,"v":0,"o":-0.11},{"g":4,"v":0,"o":-0.08},{"g":4,"v":0,"o":-0.05},{"g":4,"v":0,"o":-0.02},{"g":4,"v":0,"o":0.01},{"g":4,"v":0,"o":0.04},{"g":4,"v":0,"o":0.07},{"g":4,"v":0,"o":0.1},{"g":4,"v":0,"o":0.13},{"g":4,"v":0,"o":0.16},{"g":4,"v":0,"o":0.19}
],
"pD": [
 {"g":1,"v":0.134,"o":0},{"g":1,"v":0.13,"o":0.02},{"g":1,"v":0.112,"o":-0.12},{"g":1,"v":0.105,"o":0.06},{"g":1,"v":0.087,"o":-0.17},{"g":1,"v":0.085,"o":-0.08},{"g":1,"v":0.081,"o":0.02},{"g":1,"v":0.079,"o":0.14},{"g":1,"v":0.067,"o":-0.15},{"g":1,"v":0.063,"o":0.1},{"g":1,"v":0.055,"o":-0.04},{"g":1,"v":0.051,"o":0.06},{"g":1,"v":0.054,"o":0.17},{"g":1,"v":0.039,"o":-0.12},{"g":1,"v":0.038,"o":0.08},{"g":1,"v":0.046,"o":0.19},{"g":1,"v":0.024,"o":-0.17},{"g":1,"v":0.02,"o":-0.11},{"g":1,"v":0.02,"o":-0.01},{"g":1,"v":0.024,"o":0.12},{"g":1,"v":0.028,"o":0.22},{"g":1,"v":0.012,"o":-0.2},{"g":1,"v":0.008,"o":-0.07},{"g":1,"v":0.012,"o":0.06},{"g":1,"v":0.008,"o":0.16},{"g":1,"v":0,"o":-0.14},{"g":1,"v":0.002,"o":0.01},{"g":1,"v":-0.004,"o":0.1},{"g":1,"v":-0.008,"o":-0.22},{"g":1,"v":-0.012,"o":-0.06},{"g":1,"v":-0.016,"o":0.06},{"g":1,"v":-0.012,"o":0.19},{"g":1,"v":-0.024,"o":-0.12},{"g":1,"v":-0.028,"o":-0.01},{"g":1,"v":-0.028,"o":0.14},{"g":1,"v":-0.043,"o":-0.17},{"g":1,"v":-0.047,"o":-0.06},{"g":1,"v":-0.039,"o":0.06},{"g":1,"v":-0.051,"o":-0.18},{"g":1,"v":-0.072,"o":0.14},
 {"g":2,"v":0.525,"o":0.15},{"g":2,"v":0.459,"o":-0.05},{"g":2,"v":0.417,"o":-0.19},{"g":2,"v":0.354,"o":-0.07},{"g":2,"v":0.328,"o":-0.18},{"g":2,"v":0.218,"o":-0.09},{"g":2,"v":0.218,"o":0.08},{"g":2,"v":0.201,"o":-0.08},{"g":2,"v":0.191,"o":-0.06},{"g":2,"v":0.136,"o":0.15},{"g":2,"v":0.134,"o":0.12},{"g":2,"v":0.083,"o":-0.2},{"g":2,"v":0.102,"o":-0.13},{"g":2,"v":0.063,"o":-0.17},{"g":2,"v":0.055,"o":-0.07},{"g":2,"v":0.067,"o":0.03},{"g":2,"v":0.055,"o":0.15},{"g":2,"v":0.043,"o":0.18},{"g":2,"v":0.039,"o":-0.16},{"g":2,"v":0.02,"o":-0.11},{"g":2,"v":0.024,"o":-0.01},{"g":2,"v":0.028,"o":0.1},{"g":2,"v":0.016,"o":0.17},{"g":2,"v":0.004,"o":-0.19},{"g":2,"v":-0.004,"o":-0.1},{"g":2,"v":0,"o":0.06},{"g":2,"v":-0.008,"o":0.12},{"g":2,"v":-0.02,"o":-0.15},{"g":2,"v":-0.024,"o":-0.01},{"g":2,"v":-0.02,"o":0.1},{"g":2,"v":-0.026,"o":-0.02},
 {"g":3,"v":0.215,"o":0.17},{"g":3,"v":-0.097,"o":0.13},{"g":3,"v":0.087,"o":-0.18},{"g":3,"v":0.079,"o":-0.13},{"g":3,"v":0.083,"o":-0.06},{"g":3,"v":0.071,"o":0.06},{"g":3,"v":0.063,"o":0.15},{"g":3,"v":0.055,"o":-0.22},{"g":3,"v":0.059,"o":-0.1},{"g":3,"v":0.051,"o":0.01},{"g":3,"v":0.055,"o":0.11},{"g":3,"v":0.039,"o":-0.17},{"g":3,"v":0.035,"o":-0.06},{"g":3,"v":0.038,"o":0.07},{"g":3,"v":0.035,"o":0.17},{"g":3,"v":0.024,"o":-0.22},{"g":3,"v":0.02,"o":-0.12},{"g":3,"v":0.017,"o":-0.01},{"g":3,"v":0.022,"o":0.11},{"g":3,"v":0.02,"o":0.22},{"g":3,"v":0.008,"o":-0.17},{"g":3,"v":0.004,"o":-0.06},{"g":3,"v":0.008,"o":0.06},{"g":3,"v":0,"o":0.17},{"g":3,"v":-0.008,"o":-0.1},{"g":3,"v":-0.012,"o":0.01},{"g":3,"v":-0.01,"o":0.13},{"g":3,"v":-0.02,"o":-0.16},{"g":3,"v":-0.024,"o":-0.03},{"g":3,"v":-0.028,"o":0.08},{"g":3,"v":-0.032,"o":0.17},{"g":3,"v":-0.035,"o":-0.15},{"g":3,"v":-0.039,"o":0.01},{"g":3,"v":-0.063,"o":-0.18},{"g":3,"v":-0.067,"o":-0.13},{"g":3,"v":-0.063,"o":-0.11},
 {"g":4,"v":0.272,"o":0.15},{"g":4,"v":0.236,"o":0.16},{"g":4,"v":0.199,"o":-0.17},{"g":4,"v":0.176,"o":0.13},{"g":4,"v":0.152,"o":-0.06},{"g":4,"v":0.15,"o":-0.04},{"g":4,"v":0.106,"o":0.18},{"g":4,"v":0.102,"o":-0.14},{"g":4,"v":0.094,"o":0.04},{"g":4,"v":0.087,"o":0.13},{"g":4,"v":0.077,"o":-0.23},{"g":4,"v":0.083,"o":-0.1},{"g":4,"v":0.071,"o":-0.03},{"g":4,"v":0.075,"o":0.09},{"g":4,"v":0.055,"o":-0.21},{"g":4,"v":0.051,"o":-0.11},{"g":4,"v":0.051,"o":0.11},{"g":4,"v":0.047,"o":0.18},{"g":4,"v":0.039,"o":-0.17},{"g":4,"v":0.035,"o":-0.05},{"g":4,"v":0.038,"o":0.06},{"g":4,"v":0.031,"o":0.16},{"g":4,"v":0.02,"o":-0.23},{"g":4,"v":0.017,"o":-0.12},{"g":4,"v":0.02,"o":0},{"g":4,"v":0.017,"o":0.13},{"g":4,"v":0.004,"o":-0.19},{"g":4,"v":0,"o":-0.07},{"g":4,"v":0.004,"o":0.05},{"g":4,"v":0,"o":0.18},{"g":4,"v":-0.012,"o":-0.15},{"g":4,"v":-0.016,"o":-0.03},{"g":4,"v":-0.014,"o":0.11},{"g":4,"v":-0.028,"o":-0.12},{"g":4,"v":-0.024,"o":0.02},{"g":4,"v":-0.047,"o":-0.17},{"g":4,"v":-0.047,"o":0.18},{"g":4,"v":-0.057,"o":-0.11},{"g":4,"v":-0.039,"o":-0.05},{"g":4,"v":-0.106,"o":-0.1}
]
},
"config": {
 "font": "Liberation Sans",
 "view": {"stroke": null},
 "axis": {"grid": false, "domainColor": "#000000", "domainWidth": 1, "tickColor": "#333333", "tickSize": 4, "labelPadding": 2, "labelFont": "Liberation Sans", "labelFontSize": 11.2, "labelColor": "#4d4d4d", "titleFont": "Liberation Sans", "titleFontSize": 14, "titleFontWeight": "normal", "titleColor": "#000000", "titlePadding": 4},
 "title": {"font": "Liberation Sans", "color": "#000000"}
}
}
